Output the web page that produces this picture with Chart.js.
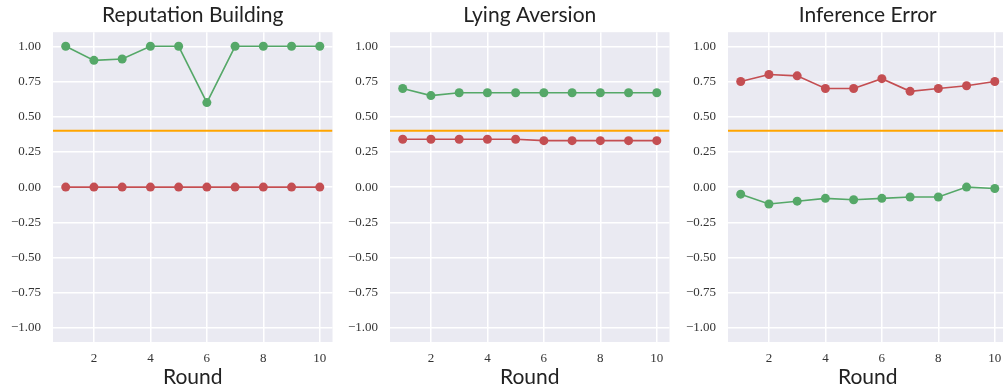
<!DOCTYPE html>
<html>
<head>
<meta charset="utf-8">
<script src="https://cdn.jsdelivr.net/npm/chart.js@4"></script>
<style>
  html, body { margin: 0; padding: 0; background: #fff; overflow: hidden; }
  body { width: 1003px; height: 392px; position: relative; }
  canvas { position: absolute; top: 0; }
</style>
</head>
<body>
<canvas id="c1" width="337" height="392" style="left:0px"></canvas>
<canvas id="c2" width="337" height="392" style="left:337px"></canvas>
<canvas id="c3" width="337" height="392" style="left:675px"></canvas>
<script>
// rounds on the x axis
const rounds = [1, 2, 3, 4, 5, 6, 7, 8, 9, 10];

// Reputation Building
const repGreen = [1.00, 0.90, 0.91, 1.00, 1.00, 0.60, 1.00, 1.00, 1.00, 1.00];
const repRed   = [0.00, 0.00, 0.00, 0.00, 0.00, 0.00, 0.00, 0.00, 0.00, 0.00];

// Lying Aversion
const lieGreen = [0.70, 0.65, 0.67, 0.67, 0.67, 0.67, 0.67, 0.67, 0.67, 0.67];
const lieRed   = [0.34, 0.34, 0.34, 0.34, 0.34, 0.33, 0.33, 0.33, 0.33, 0.33];

// Inference Error
const infGreen = [-0.05, -0.12, -0.10, -0.08, -0.09, -0.08, -0.07, -0.07, 0.00, -0.01];
const infRed   = [0.75, 0.80, 0.79, 0.70, 0.70, 0.77, 0.68, 0.70, 0.72, 0.75];

const threshold = 0.4;
const xMin = 0.55, xMax = 10.45;
const yMin = -1.1, yMax = 1.1;

const GREEN = '#55a868';
const RED = '#c44e52';
const ORANGE = '#ffa500';
const BG = '#eaeaf2';

const fmtTick = v => (v < 0 ? '\u2212' : '') + Math.abs(v).toFixed(2);

// paint the seaborn grey background behind the plot area
const bgPlugin = {
  id: 'bg',
  beforeDraw(chart) {
    const a = chart.chartArea;
    const ctx = chart.ctx;
    ctx.save();
    ctx.fillStyle = BG;
    ctx.fillRect(a.left, a.top, a.right - a.left, a.bottom - a.top);
    ctx.restore();
  }
};

function series(values, color) {
  return {
    data: values.map((v, i) => ({ x: rounds[i], y: v })),
    borderColor: color,
    backgroundColor: color,
    borderWidth: 1.6,
    pointRadius: 4.5,
    pointBorderWidth: 0,
    pointBackgroundColor: color,
    showLine: true,
    tension: 0
  };
}

function makeChart(id, title, green, red) {
  const ctx = document.getElementById(id);
  return new Chart(ctx, {
    type: 'scatter',
    data: {
      datasets: [
        series(green, GREEN),
        series(red, RED),
        {
          data: [{ x: xMin, y: threshold }, { x: xMax, y: threshold }],
          borderColor: ORANGE,
          borderWidth: 2,
          pointRadius: 0,
          showLine: true
        }
      ]
    },
    options: {
      responsive: false,
      animation: false,
      devicePixelRatio: 1,
      layout: { padding: { left: 0, right: 4, top: 0, bottom: 0 } },
      plugins: {
        legend: { display: false },
        tooltip: { enabled: false },
        title: {
          display: true,
          fullSize: false,
          text: title,
          color: '#222',
          font: { family: 'Lato', size: 21, weight: 'normal', lineHeight: 1.2 },
          padding: { top: 3, bottom: 4 }
        }
      },
      scales: {
        x: {
          type: 'linear',
          min: xMin,
          max: xMax,
          border: { display: false },
          grid: { color: '#ffffff', lineWidth: 1.5, drawTicks: false },
          ticks: {
            stepSize: 2,
            includeBounds: false,
            padding: 9,
            color: '#333',
            font: { family: 'Liberation Serif', size: 13 }
          },
          title: {
            display: true,
            text: 'Round',
            color: '#222',
            font: { family: 'Lato', size: 21, lineHeight: 1.2 },
            padding: { top: 0, bottom: 2 }
          },
          afterFit(scale) { scale.height = 50; }
        },
        y: {
          min: yMin,
          max: yMax,
          border: { display: false },
          grid: { color: '#ffffff', lineWidth: 1.5, drawTicks: false },
          ticks: {
            stepSize: 0.25,
            includeBounds: false,
            padding: 12,
            color: '#333',
            font: { family: 'Liberation Serif', size: 13 },
            callback: fmtTick
          },
          afterFit(scale) { scale.width = 53; }
        }
      }
    },
    plugins: [bgPlugin]
  });
}

makeChart('c1', 'Reputation Building', repGreen, repRed);
makeChart('c2', 'Lying Aversion', lieGreen, lieRed);
makeChart('c3', 'Inference Error', infGreen, infRed);
</script>
</body>
</html>
